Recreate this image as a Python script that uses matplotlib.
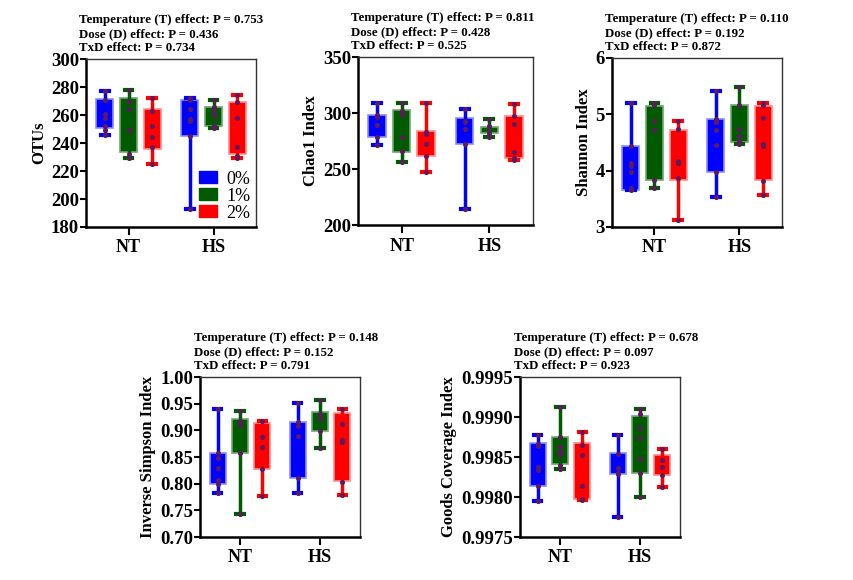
import matplotlib.pyplot as plt
from matplotlib.patches import Patch
from matplotlib.ticker import FormatStrFormatter
import numpy as np

plt.rcParams['font.family'] = ['Liberation Serif', 'DejaVu Serif']
plt.rcParams['font.weight'] = 'bold'

groups = ['NT', 'HS']
doses = ['0%', '1%', '2%']
colors = ['#0000ff', '#005a00', '#ff0000']
edge_colors = ['#8c8cff', '#6fa86f', '#ff8c8c']
dot_color = '#5e1a5e'

# order of groups: NT-0%, NT-1%, NT-2%, HS-0%, HS-1%, HS-2%
otus_pts = [[277, 271, 261, 258, 252, 249, 246],
            [278, 270, 264, 249, 232, 229],
            [272, 263, 252, 244, 237, 225],
            [272, 271, 264, 257, 256, 245, 193],
            [271, 266, 262, 259, 253, 251],
            [274, 269, 258, 237, 231, 229]]
otus_q1 = [251, 233.5, 236, 245, 252.5, 232]
otus_q3 = [271.5, 272.5, 264, 271, 266, 269]

chao_pts = [[309, 298, 296, 289, 279, 271],
            [309, 302, 298, 279, 266, 256],
            [309, 283, 281, 272, 262, 247],
            [304, 293, 292, 286, 272, 214],
            [295, 288, 284, 282, 279],
            [308, 297, 290, 265, 260, 258]]
chao_q1 = [279, 265.5, 261.5, 272.5, 282, 260]
chao_q3 = [298.5, 303, 284, 295.5, 287.5, 297.5]

shannon_pts = [[5.20, 4.43, 4.14, 4.09, 3.97, 3.70, 3.66],
               [5.20, 5.17, 4.88, 4.72, 3.83, 3.69],
               [4.89, 4.74, 4.18, 4.13, 3.87, 3.12],
               [5.42, 4.91, 4.86, 4.73, 4.46, 3.97, 3.53],
               [5.48, 5.17, 4.74, 4.62, 4.52, 4.47],
               [5.20, 5.17, 4.93, 4.47, 4.43, 3.81, 3.56]]
shannon_q1 = [3.65, 3.83, 3.83, 3.97, 4.51, 3.83]
shannon_q3 = [4.43, 5.14, 4.72, 4.91, 5.17, 5.14]

invsimp_pts = [[0.940, 0.858, 0.848, 0.830, 0.807, 0.800, 0.783],
               [0.937, 0.918, 0.910, 0.858, 0.743],
               [0.917, 0.888, 0.869, 0.827, 0.777],
               [0.952, 0.916, 0.909, 0.890, 0.811, 0.782],
               [0.957, 0.930, 0.921, 0.899, 0.866],
               [0.940, 0.912, 0.881, 0.878, 0.803, 0.778]]
invsimp_q1 = [0.800, 0.858, 0.827, 0.810, 0.899, 0.805]
invsimp_q3 = [0.858, 0.922, 0.913, 0.916, 0.935, 0.932]

goods_pts = [[0.99878, 0.99866, 0.99864, 0.99838, 0.99834, 0.99814, 0.99795],
             [0.99912, 0.99875, 0.99864, 0.99858, 0.99853, 0.99840, 0.99835],
             [0.99881, 0.99865, 0.99853, 0.99814, 0.99797, 0.99796],
             [0.99878, 0.99854, 0.99836, 0.99830, 0.99829, 0.99775],
             [0.99910, 0.99904, 0.99886, 0.99874, 0.99848, 0.99830, 0.99800],
             [0.99860, 0.99846, 0.99838, 0.99828, 0.99813]]
goods_q1 = [0.99814, 0.99841, 0.99797, 0.99829, 0.99830, 0.99828]
goods_q3 = [0.99867, 0.99875, 0.99868, 0.99855, 0.99901, 0.99852]

p_values = {
    'otus': ('0.753', '0.436', '0.734'),
    'chao': ('0.811', '0.428', '0.525'),
    'shannon': ('0.110', '0.192', '0.872'),
    'invsimp': ('0.148', '0.152', '0.791'),
    'goods': ('0.678', '0.097', '0.923'),
}

W, H = 854, 580
fig = plt.figure(figsize=(W / 100, H / 100), dpi=100)


def make_axes(left, right, top, bottom):
    return fig.add_axes([left / W, (H - bottom) / H, (right - left) / W, (bottom - top) / H])


def draw_panel(ax, pts, q1, q3, ylabel, yticks, fmt, pv):
    stats = []
    positions = []
    for i, p in enumerate(pts):
        g, d = divmod(i, 3)
        positions.append(g + (d - 1) * 0.28)
        stats.append({'whislo': min(p), 'q1': q1[i], 'med': float(np.median(p)),
                      'q3': q3[i], 'whishi': max(p)})
    for i, (s, pos) in enumerate(zip(stats, positions)):
        d = i % 3
        ax.bxp([s], positions=[pos], widths=0.2, capwidths=0.09, patch_artist=True,
               showfliers=False,
               boxprops=dict(facecolor=colors[d], edgecolor=edge_colors[d], linewidth=1.2),
               whiskerprops=dict(color=colors[d], linewidth=2.5),
               capprops=dict(color=colors[d], linewidth=3),
               medianprops=dict(linewidth=0))
        ax.plot([pos] * len(pts[i]), pts[i], 'o', color=dot_color, markersize=2.6, zorder=5)

    ax.set_xlim(-0.5, 1.5)
    ax.set_xticks([0, 1])
    ax.set_xticklabels(groups, fontsize=13, fontweight='bold')
    ax.set_ylim(yticks[0], yticks[-1])
    ax.set_yticks(yticks)
    ax.yaxis.set_major_formatter(FormatStrFormatter(fmt))
    ax.tick_params(axis='y', labelsize=13.5, length=4.5, width=1.5, pad=0.5)
    ax.tick_params(axis='x', length=6, width=1.5, pad=3)
    ax.set_ylabel(ylabel, fontsize=12, fontweight='bold', labelpad=3)
    for side in ['left', 'bottom']:
        ax.spines[side].set_linewidth(1.8)
    for side in ['top', 'right']:
        ax.spines[side].set_linewidth(1.0)
        ax.spines[side].set_color('#333333')
    txt = ('Temperature (T) effect: P = %s\nDose (D) effect: P = %s\nTxD effect: P = %s'
           % pv)
    ax.text(-0.04, 1.03, txt, transform=ax.transAxes, fontsize=9.3, fontweight='bold',
            ha='left', va='bottom', linespacing=1.22)


ax1 = make_axes(86, 256, 59, 227)
draw_panel(ax1, otus_pts, otus_q1, otus_q3, 'OTUs', [180, 200, 220, 240, 260, 280, 300],
           '%d', p_values['otus'])
handles = [Patch(facecolor=c, edgecolor=c) for c in colors]
ax1.legend(handles, doses, loc='lower right', frameon=False, handlelength=1.0,
           handleheight=0.65, handletextpad=0.5, labelspacing=0.0, borderaxespad=0.1,
           borderpad=0.2,
           prop={'family': 'Liberation Serif', 'weight': 'normal', 'size': 13})

ax2 = make_axes(358, 533, 57, 225)
draw_panel(ax2, chao_pts, chao_q1, chao_q3, 'Chao1 Index', [200, 250, 300, 350],
           '%d', p_values['chao'])

ax3 = make_axes(612, 782, 58, 227)
draw_panel(ax3, shannon_pts, shannon_q1, shannon_q3, 'Shannon Index', [3, 4, 5, 6],
           '%d', p_values['shannon'])

ax4 = make_axes(200, 360, 377, 537)
draw_panel(ax4, invsimp_pts, invsimp_q1, invsimp_q3, 'Inverse Simpson Index',
           [0.70, 0.75, 0.80, 0.85, 0.90, 0.95, 1.00], '%.2f', p_values['invsimp'])

ax5 = make_axes(520, 680, 377, 537)
draw_panel(ax5, goods_pts, goods_q1, goods_q3, 'Goods Coverage Index',
           [0.9975, 0.9980, 0.9985, 0.9990, 0.9995], '%.4f', p_values['goods'])

fig.savefig('out.png', dpi=100)
